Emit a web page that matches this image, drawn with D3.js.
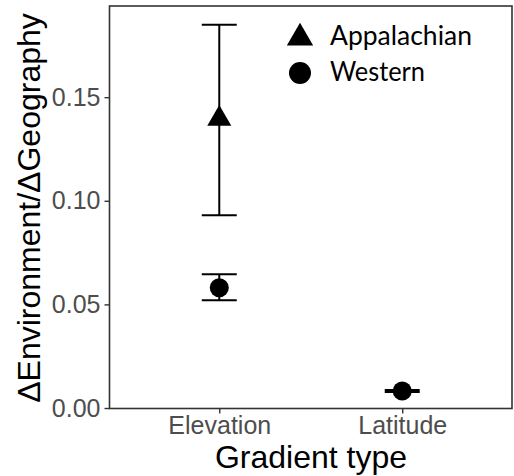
<!DOCTYPE html>
<html>
<head>
<meta charset="utf-8">
<script src="https://cdn.jsdelivr.net/npm/d3@7/dist/d3.min.js"></script>
<style>
  html, body { margin: 0; padding: 0; background: #fff; }
  svg { display: block; }
</style>
</head>
<body>
<svg id="chart" width="514" height="476"></svg>
<script>
// Gradient types on the x axis
const categories = ["Elevation", "Latitude"];
// Regions (series)
const seriesNames = ["Appalachian", "Western"];
const seriesShapes = ["triangle", "circle"];
// Mean slope with lower / upper error bounds per region
const appalachianMean  = [0.140, null];
const appalachianLower = [0.093, null];
const appalachianUpper = [0.185, null];
const westernMean  = [0.058, 0.0082];
const westernLower = [0.052, 0.0077];
const westernUpper = [0.0645, 0.0087];
// y-axis ticks
const yTicks = [0.00, 0.05, 0.10, 0.15];
const yMax = 0.194;

const svg = d3.select("#chart");
const panel = { left: 109.5, right: 512, top: 6, bottom: 408.5 };

const x = d3.scalePoint().domain(categories)
  .range([panel.left, panel.right]).padding(0.6);
const y = d3.scaleLinear().domain([0, yMax]).range([408, panel.top]);

// panel frame
svg.append("rect")
  .attr("x", panel.left).attr("y", panel.top)
  .attr("width", panel.right - panel.left)
  .attr("height", panel.bottom - panel.top)
  .attr("fill", "none").attr("stroke", "#333").attr("stroke-width", 1.6);

// axes
const yAxis = d3.axisLeft(y).tickValues(yTicks).tickFormat(d3.format(".2f"))
  .tickSize(5).tickPadding(4);
const gy = svg.append("g").attr("transform", `translate(${panel.left},0)`).call(yAxis);
gy.select(".domain").remove();
gy.selectAll(".tick line").attr("stroke", "#333").attr("stroke-width", 1.4);
gy.selectAll(".tick text")
  .attr("fill", "#4D4D4D").attr("font-family", "'Liberation Sans', Arial, sans-serif")
  .attr("font-size", 25);

const xAxis = d3.axisBottom(x).tickSize(5).tickPadding(3);
const gx = svg.append("g").attr("transform", `translate(0,${panel.bottom})`).call(xAxis);
gx.select(".domain").remove();
gx.selectAll(".tick line").attr("stroke", "#333").attr("stroke-width", 1.4);
gx.selectAll(".tick text")
  .attr("fill", "#4D4D4D").attr("font-family", "'Liberation Sans', Arial, sans-serif")
  .attr("font-size", 25);

// axis titles
svg.append("text")
  .attr("x", 311).attr("y", 468)
  .attr("text-anchor", "middle")
  .attr("font-family", "'Liberation Sans', Arial, sans-serif")
  .attr("font-size", 32).attr("fill", "#000")
  .text("Gradient type");

svg.append("text")
  .attr("transform", "translate(40,208) rotate(-90)")
  .attr("text-anchor", "middle")
  .attr("font-family", "'Liberation Sans', Arial, sans-serif")
  .attr("font-size", 32).attr("fill", "#000")
  .text("\u0394Environment/\u0394Geography");

// assemble records
const series = [
  { name: seriesNames[0], shape: seriesShapes[0], mean: appalachianMean, lo: appalachianLower, hi: appalachianUpper },
  { name: seriesNames[1], shape: seriesShapes[1], mean: westernMean, lo: westernLower, hi: westernUpper }
];
const records = [];
series.forEach(s => categories.forEach((c, i) => {
  if (s.mean[i] != null) records.push({ cat: c, shape: s.shape, mean: s.mean[i], lo: s.lo[i], hi: s.hi[i] });
}));

const capHalf = 17.5;
const eb = svg.append("g").attr("stroke", "#000").attr("stroke-width", 2);
records.forEach(r => {
  const cx = x(r.cat);
  eb.append("line").attr("x1", cx).attr("x2", cx).attr("y1", y(r.lo)).attr("y2", y(r.hi));
  eb.append("line").attr("x1", cx - capHalf).attr("x2", cx + capHalf).attr("y1", y(r.lo)).attr("y2", y(r.lo));
  eb.append("line").attr("x1", cx - capHalf).attr("x2", cx + capHalf).attr("y1", y(r.hi)).attr("y2", y(r.hi));
});

const symbolPath = (shape, area) =>
  d3.symbol().type(shape === "triangle" ? d3.symbolTriangle : d3.symbolCircle).size(area)();

const pts = svg.append("g");
records.forEach(r => {
  pts.append("path")
    .attr("d", symbolPath(r.shape, r.shape === "triangle" ? 250 : 285))
    .attr("transform", `translate(${x(r.cat)},${y(r.mean) + (r.shape === "triangle" ? 1 : 0)})`)
    .attr("fill", "#000");
});

// legend
const legend = svg.append("g");
const legendY = [37, 73];
const legendLen = [142, 95];
series.forEach((s, i) => {
  legend.append("path")
    .attr("d", symbolPath(s.shape, s.shape === "triangle" ? 300 : 380))
    .attr("transform", `translate(300,${legendY[i] + (s.shape === "triangle" ? 1 : 0)})`)
    .attr("fill", "#000");
  legend.append("text")
    .attr("x", 330).attr("y", legendY[i] + 8)
    .attr("font-family", "Lato, 'Open Sans', sans-serif")
    .attr("font-size", 27).attr("fill", "#000")
    .attr("textLength", legendLen[i]).attr("lengthAdjust", "spacingAndGlyphs")
    .text(s.name);
});
</script>
</body>
</html>
